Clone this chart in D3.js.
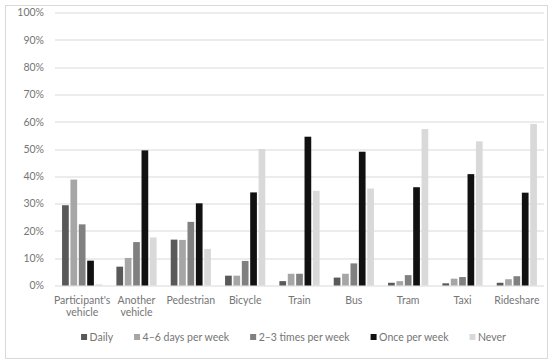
<!DOCTYPE html>
<html>
<head>
<meta charset="utf-8">
<script src="https://cdn.jsdelivr.net/npm/d3@7"></script>
<style>
  html, body { margin: 0; padding: 0; background: #fff; }
  svg { display: block; font-family: Lato, "Open Sans", sans-serif; }
</style>
</head>
<body>
<div id="chart"></div>
<script>
// categories along the x axis
const categories = ["Participant's vehicle", "Another vehicle", "Pedestrian", "Bicycle", "Train", "Bus", "Tram", "Taxi", "Rideshare"];

// frequency series (legend order)
const series = ["Daily", "4\u20136 days per week", "2\u20133 times per week", "Once per week", "Never"];

// percent values per series, one per category
const daily      = [29.4,  6.9, 16.8,  3.6,  1.6,  2.9,  1.0,  0.8,  1.0];
const fourToSix  = [38.8, 10.1, 16.7,  3.6,  4.3,  4.3,  1.6,  2.5,  2.3];
const twoToThree = [22.4, 15.9, 23.3,  9.0,  4.3,  8.1,  3.8,  3.1,  3.4];
const oncePerWk  = [ 9.1, 49.5, 30.1, 34.1, 54.5, 49.0, 36.0, 40.8, 34.0];
const never      = [ 0.4, 17.6, 13.4, 50.0, 34.7, 35.5, 57.3, 52.8, 59.2];

const yTicks = [0, 10, 20, 30, 40, 50, 60, 70, 80, 90, 100];

const colors = ["#595959", "#a6a6a6", "#808080", "#111111", "#d9d9d9"];

const values = [daily, fourToSix, twoToThree, oncePerWk, never];

const textColor = "#757575";

const W = 550, H = 364;
const margin = {top: 12.5, right: 6, bottom: 78.5, left: 55};
const width = W - margin.left - margin.right,
      height = H - margin.top - margin.bottom;

const svg = d3.select("#chart")
      .append("svg")
      .attr("width", W)
      .attr("height", H);

// outer frame
svg.append("rect")
    .attr("x", 5.5)
    .attr("y", 5.5)
    .attr("width", 542)
    .attr("height", 353)
    .attr("fill", "#fff")
    .attr("stroke", "#d9d9d9");

const g = svg.append("g")
      .attr("transform", "translate(" + margin.left + "," + margin.top + ")");

const x0 = d3.scaleBand().domain(categories).range([0, width]).paddingInner(0.26).paddingOuter(0.13);
const x1 = d3.scaleBand().domain(series).range([0, x0.bandwidth()]).paddingInner(0.2);
const y = d3.scaleLinear().domain([0, 100]).range([height, 0]);

// gridlines
g.selectAll(".grid").data(yTicks).enter()
    .append("line")
    .attr("class", "grid")
    .attr("x1", 0)
    .attr("x2", width)
    .attr("y1", d => Math.round(y(d)) + 0.5)
    .attr("y2", d => Math.round(y(d)) + 0.5)
    .attr("stroke", "#d9d9d9")
    .attr("stroke-width", 1);

// y axis labels
const yAxis = g.append("g")
      .call(d3.axisLeft(y).tickValues(yTicks).tickSize(0).tickPadding(11).tickFormat(d => d + "%"));
yAxis.select(".domain").remove();
yAxis.selectAll("text")
    .attr("fill", textColor)
    .attr("font-size", 10.5)
    .attr("font-family", "Lato, 'Open Sans', sans-serif");

// bars
const groups = g.selectAll(".cat").data(categories).enter()
      .append("g")
      .attr("class", "cat")
      .attr("transform", d => "translate(" + x0(d) + ",0)");
groups.selectAll("rect")
    .data((c, ci) => series.map((s, si) => ({s, v: values[si][ci], color: colors[si]})))
    .enter()
    .append("rect")
    .attr("x", d => x1(d.s))
    .attr("width", x1.bandwidth())
    .attr("y", d => y(d.v))
    .attr("height", d => y(0) - y(d.v))
    .attr("fill", d => d.color);

// category labels, wrapped when too wide for the band
const labels = g.selectAll(".xlab").data(categories).enter()
      .append("text")
      .attr("class", "xlab")
      .attr("text-anchor", "middle")
      .attr("fill", textColor)
      .attr("font-size", 10.5)
      .attr("x", d => x0(d) + x0.bandwidth() / 2)
      .attr("y", height + 18);
labels.each(function(d) {
    const t = d3.select(this);
    t.text(d);
    if (this.getComputedTextLength() > x0.step() * 0.95) {
        t.text(null);
        d.split(" ").forEach((w, i) => {
            t.append("tspan")
                .attr("x", x0(d) + x0.bandwidth() / 2)
                .attr("dy", i ? 12.5 : 0)
                .text(w);
        });
    }
});

// legend
const legend = svg.append("g").attr("transform", "translate(0,337)");
const items = legend.selectAll(".item").data(series).enter()
      .append("g")
      .attr("class", "item");
items.append("rect")
    .attr("x", 0)
    .attr("y", -3)
    .attr("width", 6)
    .attr("height", 6)
    .attr("fill", (d, i) => colors[i]);
items.append("text")
    .attr("x", 8.5)
    .attr("dy", "0.35em")
    .attr("fill", textColor)
    .attr("font-size", 10.5)
    .text(d => d);

const widths = [];
items.each(function() {
    widths.push(d3.select(this).select("text").node().getComputedTextLength() + 8.5);
});
const gap = 21;
const total = widths.reduce((a, b) => a + b, 0) + gap * (widths.length - 1);
let lx = 293.5 - total / 2;
items.attr("transform", (d, i) => {
    const t = "translate(" + lx + ",0)";
    lx += widths[i] + gap;
    return t;
});
</script>
</body>
</html>
